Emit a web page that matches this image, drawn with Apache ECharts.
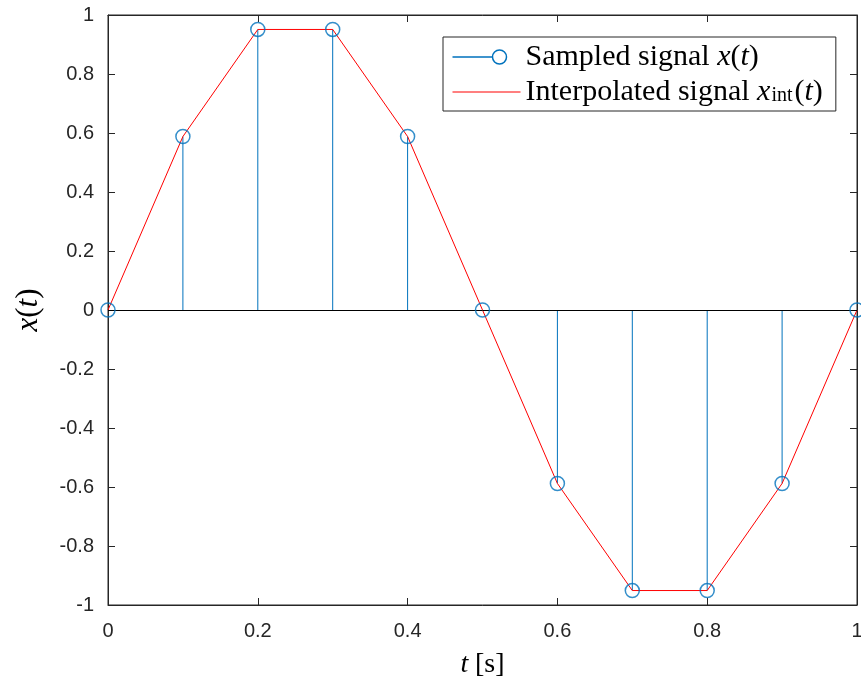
<!DOCTYPE html>
<html>
<head>
<meta charset="utf-8">
<script src="https://cdn.jsdelivr.net/npm/echarts@6/dist/echarts.min.js"></script>
<style>
  html, body { margin: 0; padding: 0; background: #fff; }
  #chart { width: 861px; height: 684px; }
</style>
</head>
<body>
<div id="chart"></div>
<script>
// Sample instants (s) and sampled values of one period of a sine wave
const sampleTimes = [0, 0.1, 0.2, 0.3, 0.4, 0.5, 0.6, 0.7, 0.8, 0.9, 1.0];
const sampleValues = [0, 0.588, 0.951, 0.951, 0.588, 0, -0.588, -0.951, -0.951, -0.588, 0];
// Linear interpolation passes through the same samples
const interpValues = [0, 0.588, 0.951, 0.951, 0.588, 0, -0.588, -0.951, -0.951, -0.588, 0];
const xTicks = [0, 0.2, 0.4, 0.6, 0.8, 1];
const yTicks = [-1, -0.8, -0.6, -0.4, -0.2, 0, 0.2, 0.4, 0.6, 0.8, 1];

const BLUE = '#0072BD';
const RED = '#FF0000';
const AXIS = '#262626';
const SERIF = '"Liberation Serif", "DejaVu Serif", serif';
const SANS = '"Liberation Sans", Arial, Helvetica, sans-serif';

const samples = sampleTimes.map((t, i) => [t, sampleValues[i]]);
const interp = sampleTimes.map((t, i) => [t, interpValues[i]]);

const fmtTick = v => String(Math.round(v * 10) / 10);

const chart = echarts.init(document.getElementById('chart'), null, { renderer: 'canvas' });

const LEG_FS = 30;
const legendRich = {
  r: { fontFamily: SERIF, fontSize: LEG_FS, lineHeight: 28, color: '#000' },
  i: { fontFamily: SERIF, fontSize: LEG_FS, lineHeight: 28, fontStyle: 'italic', color: '#000' },
  s: { fontFamily: SERIF, fontSize: 20, lineHeight: 12, verticalAlign: 'bottom', color: '#000', padding: [0, 2, 0, 1] }
};

const option = {
  backgroundColor: '#fff',
  animation: false,
  grid: {
    left: 108, right: 4, top: 15, bottom: 79,
    outerBoundsMode: 'none',
    show: true, borderColor: AXIS, borderWidth: 1, backgroundColor: 'transparent'
  },
  legend: {
    orient: 'vertical',
    left: 443,
    top: 37,
    selectedMode: false,
    backgroundColor: '#fff',
    borderColor: AXIS,
    borderWidth: 1,
    padding: [5, 13, 4, 7],
    itemGap: 5,
    itemWidth: 68,
    itemHeight: 16,
    textStyle: { rich: legendRich },
    data: [
      {
        name: 'Sampled signal',
        icon: 'path://M0,8 L40,8 A7,7 0 1,1 54,8 A7,7 0 1,1 40,8 M68,8 M0,0 M0,16',
        itemStyle: { color: 'none', borderColor: BLUE, borderWidth: 1.5 }
      },
      {
        name: 'Interpolated signal',
        icon: 'path://M0,7.5 L68,7.5 L68,8.5 L0,8.5 Z M0,0 M0,16',
        itemStyle: { color: RED, borderWidth: 0 }
      }
    ],
    formatter: name => name === 'Sampled signal'
      ? '{r|Sampled signal }{i|x}{r|(}{i|t}{r|)}'
      : '{r|Interpolated signal }{i|x}{s|int}{r|(}{i|t}{r|)}'
  },
  xAxis: [
    {
      type: 'value', min: 0, max: 1, interval: 0.2,
      name: '{i|t}  {r|[s]}',
      nameLocation: 'middle', nameGap: 46,
      nameTextStyle: {
        rich: {
          i: { fontFamily: SERIF, fontSize: 28, lineHeight: 28, fontStyle: 'italic', color: '#000' },
          r: { fontFamily: SERIF, fontSize: 28, lineHeight: 28, color: '#000' }
        }
      },
      axisLine: { show: true, onZero: false, lineStyle: { color: AXIS, width: 1 } },
      axisTick: { show: true, inside: true, length: 7, lineStyle: { color: AXIS } },
      axisLabel: {
        margin: 16, fontFamily: SANS, fontSize: 20, color: AXIS,
        formatter: v => xTicks.includes(Math.round(v * 10) / 10) ? fmtTick(v) : ''
      },
      splitLine: { show: false }
    },
    {
      type: 'value', min: 0, max: 1, interval: 0.2, position: 'top',
      axisLine: { show: true, onZero: false, lineStyle: { color: AXIS, width: 1 } },
      axisTick: { show: true, inside: true, length: 7, lineStyle: { color: AXIS } },
      axisLabel: { show: false },
      splitLine: { show: false }
    }
  ],
  yAxis: [
    {
      type: 'value', min: -1, max: 1, interval: 0.2,
      name: '{i|x}{r|(}{i|t}{r|)}',
      nameLocation: 'middle', nameGap: 64, nameRotate: 90,
      nameTextStyle: {
        rich: {
          i: { fontFamily: SERIF, fontSize: 31, lineHeight: 30, fontStyle: 'italic', color: '#000' },
          r: { fontFamily: SERIF, fontSize: 31, lineHeight: 30, color: '#000' }
        }
      },
      axisLine: { show: true, onZero: false, lineStyle: { color: AXIS, width: 1 } },
      axisTick: { show: true, inside: true, length: 7, lineStyle: { color: AXIS } },
      axisLabel: {
        margin: 14, fontFamily: SANS, fontSize: 20, color: AXIS,
        formatter: v => yTicks.includes(Math.round(v * 10) / 10) ? fmtTick(v) : ''
      },
      splitLine: { show: false }
    },
    {
      type: 'value', min: -1, max: 1, interval: 0.2, position: 'right',
      axisLine: { show: true, onZero: false, lineStyle: { color: AXIS, width: 1 } },
      axisTick: { show: true, inside: true, length: 7, lineStyle: { color: AXIS } },
      axisLabel: { show: false },
      splitLine: { show: false }
    }
  ],
  series: [
    {
      // stems from the zero baseline up/down to each sample
      name: 'Sampled signal',
      type: 'custom',
      data: samples,
      z: 3,
      renderItem: (params, api) => {
        const t = api.value(0), v = api.value(1);
        const p0 = api.coord([t, 0]);
        const p1 = api.coord([t, v]);
        return {
          type: 'line',
          shape: { x1: p0[0], y1: p0[1], x2: p1[0], y2: p1[1] },
          style: { stroke: BLUE, lineWidth: 1 }
        };
      },
      markLine: {
        silent: true, symbol: 'none', animation: false,
        label: { show: false },
        lineStyle: { color: '#000', width: 1, type: 'solid' },
        data: [{ yAxis: 0 }]
      }
    },
    {
      name: 'Interpolated signal',
      type: 'line',
      data: interp,
      showSymbol: false,
      symbol: 'none',
      lineStyle: { color: RED, width: 1 },
      itemStyle: { color: RED },
      z: 4
    },
    {
      name: 'Sampled signal',
      type: 'scatter',
      data: samples,
      symbol: 'circle',
      symbolSize: 14,
      itemStyle: { color: 'transparent', borderColor: BLUE, borderWidth: 1.5 },
      z: 5
    }
  ]
};

chart.setOption(option);
</script>
</body>
</html>
